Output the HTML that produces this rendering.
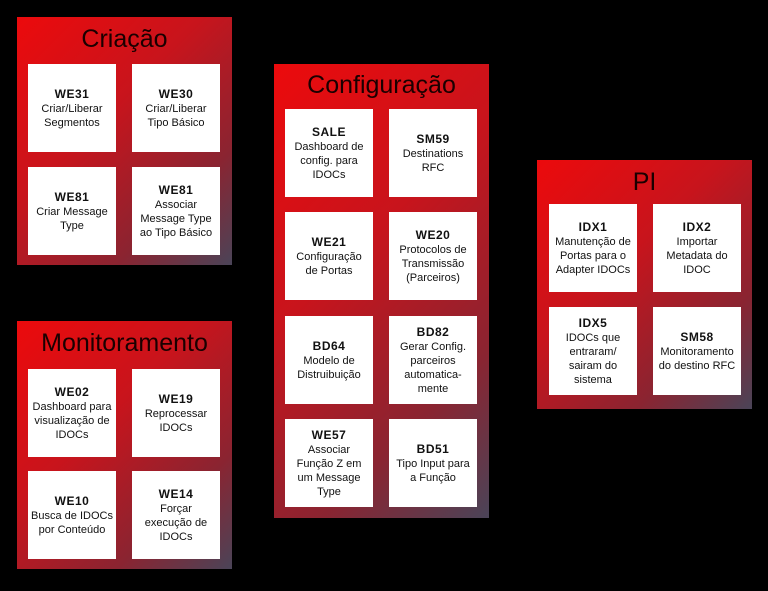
<!DOCTYPE html>
<html><head><meta charset="utf-8"><style>
body{margin:0;width:768px;height:591px;background:#000;position:relative;overflow:hidden;font-family:"Liberation Sans",sans-serif}
.p{position:absolute;background:linear-gradient(135deg,#ec0a0c 0%,#c8141c 40%,#8a2431 75%,#4a4458 100%)}
.t{position:absolute;left:0;right:0;text-align:center;color:#1a0000;font-size:25px;line-height:30px}
.b{position:absolute;width:88px;height:88px;background:#fff;display:flex;align-items:center;justify-content:center;text-align:center;font-size:11px;line-height:14px;color:#111}
.b b{font-size:12px;letter-spacing:.5px}
</style></head><body>
<div class="p" style="left:17px;top:17px;width:215px;height:248px"><div class="t" style="top:7px">Criação</div></div>
<div class="b" style="left:28px;top:64px"><div><b>WE31</b><br>Criar/Liberar<br>Segmentos</div></div>
<div class="b" style="left:132px;top:64px"><div><b>WE30</b><br>Criar/Liberar<br>Tipo Básico</div></div>
<div class="b" style="left:28px;top:167px"><div><b>WE81</b><br>Criar Message<br>Type</div></div>
<div class="b" style="left:132px;top:167px"><div><b>WE81</b><br>Associar<br>Message Type<br>ao Tipo Básico</div></div>

<div class="p" style="left:17px;top:321px;width:215px;height:248px"><div class="t" style="top:7px">Monitoramento</div></div>
<div class="b" style="left:28px;top:369px"><div><b>WE02</b><br>Dashboard para<br>visualização de<br>IDOCs</div></div>
<div class="b" style="left:132px;top:369px"><div><b>WE19</b><br>Reprocessar<br>IDOCs</div></div>
<div class="b" style="left:28px;top:471px"><div><b>WE10</b><br>Busca de IDOCs<br>por Conteúdo</div></div>
<div class="b" style="left:132px;top:471px"><div><b>WE14</b><br>Forçar<br>execução de<br>IDOCs</div></div>

<div class="p" style="left:274px;top:64px;width:215px;height:454px"><div class="t" style="top:6px">Configuração</div></div>
<div class="b" style="left:285px;top:109px"><div><b>SALE</b><br>Dashboard de<br>config. para<br>IDOCs</div></div>
<div class="b" style="left:389px;top:109px"><div><b>SM59</b><br>Destinations<br>RFC</div></div>
<div class="b" style="left:285px;top:212px"><div><b>WE21</b><br>Configuração<br>de Portas</div></div>
<div class="b" style="left:389px;top:212px"><div><b>WE20</b><br>Protocolos de<br>Transmissão<br>(Parceiros)</div></div>
<div class="b" style="left:285px;top:316px"><div><b>BD64</b><br>Modelo de<br>Distruibuição</div></div>
<div class="b" style="left:389px;top:316px"><div><b>BD82</b><br>Gerar Config.<br>parceiros<br>automatica-<br>mente</div></div>
<div class="b" style="left:285px;top:419px"><div><b>WE57</b><br>Associar<br>Função Z em<br>um Message<br>Type</div></div>
<div class="b" style="left:389px;top:419px"><div><b>BD51</b><br>Tipo Input para<br>a Função</div></div>

<div class="p" style="left:537px;top:160px;width:215px;height:249px"><div class="t" style="top:7px">PI</div></div>
<div class="b" style="left:549px;top:204px"><div><b>IDX1</b><br>Manutenção de<br>Portas para o<br>Adapter IDOCs</div></div>
<div class="b" style="left:653px;top:204px"><div><b>IDX2</b><br>Importar<br>Metadata do<br>IDOC</div></div>
<div class="b" style="left:549px;top:307px"><div><b>IDX5</b><br>IDOCs que<br>entraram/<br>sairam do<br>sistema</div></div>
<div class="b" style="left:653px;top:307px"><div><b>SM58</b><br>Monitoramento<br>do destino RFC</div></div>
</body></html>
